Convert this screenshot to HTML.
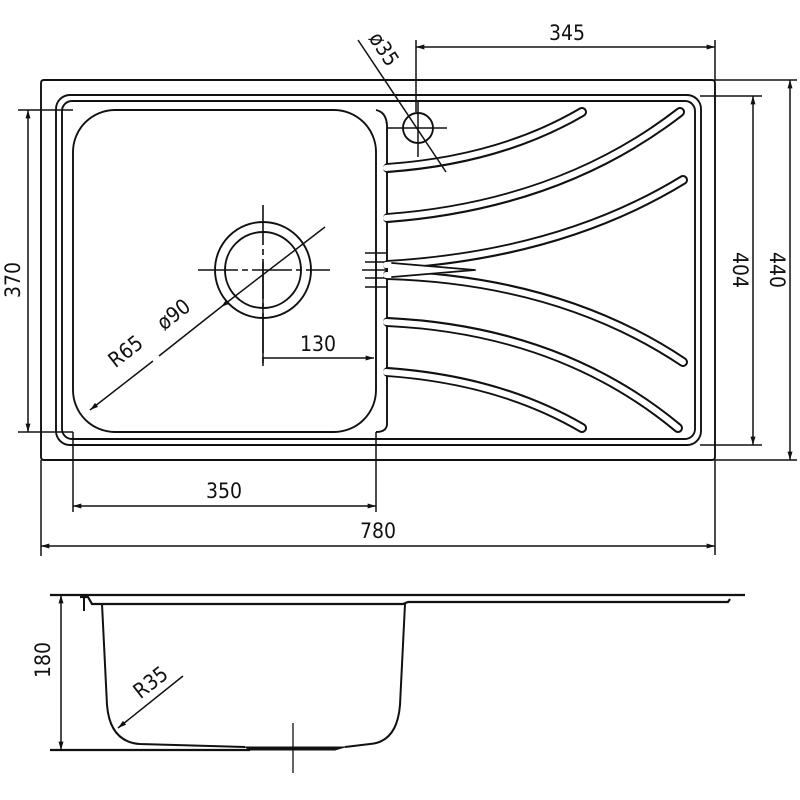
<!DOCTYPE html>
<html><head><meta charset="utf-8"><style>
html,body{margin:0;padding:0;background:#fff;}
svg{display:block}
text{font-family:"Liberation Sans Narrow","DejaVu Sans Condensed","Liberation Sans",sans-serif;font-size:21px;fill:#111}
</style></head><body>
<svg width="800" height="800" viewBox="0 0 800 800" xmlns="http://www.w3.org/2000/svg">
<defs>
<marker id="a" viewBox="0 0 10 6" refX="10" refY="3" markerWidth="14" markerHeight="5" orient="auto-start-reverse" markerUnits="userSpaceOnUse"><path d="M0,0L10,3L0,6z" fill="#111"/></marker>
</defs>
<g fill="none" stroke="#111" stroke-width="1.9">
<path d="M44,80H712Q715,80 715,83V457Q715,460 712,460H44Q41,460 41,457V83Q41,80 44,80Z"/>
<rect x="56" y="95" width="645" height="350" rx="14"/>
<rect x="62" y="101" width="633" height="338" rx="10"/>
<rect x="73" y="110" width="303" height="322" rx="42"/>
<path d="M376,110 Q386,112 387,125 V425 Q386,432 376,432"/>
<circle cx="263" cy="270" r="48"/>
<circle cx="263" cy="270" r="38"/>
<g stroke-dasharray="40,4,6,4" stroke-width="1.6">
<line x1="198" y1="270" x2="330" y2="270"/>
<line x1="263" y1="205" x2="263" y2="365"/>
</g>
<circle cx="418" cy="128" r="15"/>
<line x1="387" y1="128" x2="447" y2="128" stroke-width="1.5"/>
<line x1="418" y1="100" x2="418" y2="157" stroke-width="1.5"/>
<g stroke-width="1.5">
<line x1="365" y1="253" x2="387" y2="253"/><line x1="365" y1="262" x2="387" y2="262"/>
<line x1="362" y1="270" x2="390" y2="270"/>
<line x1="365" y1="278" x2="387" y2="278"/><line x1="365" y1="287" x2="387" y2="287"/>
</g>
</g>
<g fill="none" stroke-linecap="round">
<g stroke="#111" stroke-width="10">
<path d="M388,168 Q500,160 582,112"/>
<path d="M388,218 Q560,205 680,112"/>
<path d="M388,265 Q560,255 683,180"/>
<path d="M388,275 Q560,280 683,362"/>
<path d="M388,322 Q560,330 678,428"/>
<path d="M388,372 Q500,380 582,428"/>
</g>
<g stroke="#fff" stroke-width="6">
<path d="M386,168 Q500,160 582,112"/>
<path d="M386,218 Q560,205 680,112"/>
<path d="M386,265 Q560,255 683,180"/>
<path d="M386,275 Q560,280 683,362"/>
<path d="M386,322 Q560,330 678,428"/>
<path d="M386,372 Q500,380 582,428"/>
</g>
<path d="M388,270 L475,270" stroke="#fff" stroke-width="8" stroke-linecap="butt"/>
<path d="M475,270 L392,263 M475,270 L392,277" stroke="#111" stroke-width="1.8"/>
</g>
<g fill="none" stroke="#111" stroke-width="1.5">
<line x1="416" y1="40" x2="416" y2="112"/><line x1="715" y1="40" x2="715" y2="80"/>
<line x1="416" y1="47" x2="715" y2="47" marker-start="url(#a)" marker-end="url(#a)"/>
<line x1="358" y1="40" x2="446" y2="172"/>
<line x1="18" y1="110" x2="73" y2="110"/><line x1="18" y1="432" x2="73" y2="432"/>
<line x1="28" y1="110" x2="28" y2="432" marker-start="url(#a)" marker-end="url(#a)"/>
<line x1="700" y1="96" x2="762" y2="96"/><line x1="700" y1="445" x2="762" y2="445"/>
<line x1="753" y1="96" x2="753" y2="445" marker-start="url(#a)" marker-end="url(#a)"/>
<line x1="715" y1="80" x2="797" y2="80"/><line x1="715" y1="460" x2="797" y2="460"/>
<line x1="790" y1="80" x2="790" y2="460" marker-start="url(#a)" marker-end="url(#a)"/>
<line x1="715" y1="460" x2="715" y2="555"/>
<line x1="73" y1="432" x2="73" y2="512"/><line x1="376" y1="432" x2="376" y2="512"/>
<line x1="73" y1="506" x2="376" y2="506" marker-start="url(#a)" marker-end="url(#a)"/>
<line x1="41" y1="460" x2="41" y2="556"/>
<line x1="41" y1="546" x2="715" y2="546" marker-start="url(#a)" marker-end="url(#a)"/>
<line x1="263" y1="358" x2="374" y2="358" marker-end="url(#a)"/>
<line x1="263" y1="262" x2="263" y2="366"/>
<line x1="90" y1="410" x2="153" y2="361" marker-start="url(#a)"/>
<line x1="159" y1="356" x2="221" y2="307"/>
<line x1="221" y1="307" x2="325" y2="227" marker-start="url(#a)"/>
</g>
<text x="567" y="40" text-anchor="middle">345</text>
<text transform="translate(20,280) rotate(-90)" text-anchor="middle">370</text>
<text transform="translate(733,270) rotate(90)" text-anchor="middle">404</text>
<text transform="translate(770,270) rotate(90)" text-anchor="middle">440</text>
<text x="224" y="498" text-anchor="middle">350</text>
<text x="378" y="538" text-anchor="middle">780</text>
<text x="318" y="351" text-anchor="middle">130</text>
<text transform="translate(130,357) rotate(-38)" text-anchor="middle">R65</text>
<text transform="translate(178,320) rotate(-38)" text-anchor="middle">ø90</text>
<text transform="translate(378,53) rotate(57)" text-anchor="middle">ø35</text>
<g fill="none" stroke="#111" stroke-width="2">
<line x1="50" y1="595" x2="745" y2="595" stroke-width="2.2"/>
<path d="M80,597 L88,597 L92,604 H403 L408,602 H728 L730,599" stroke-width="2.2"/>
<line x1="84" y1="597" x2="84" y2="611"/>
<path d="M102,604 L107,705 Q110,742 140,744 L245,747"/>
<path d="M405,604 L400,705 Q397,742 370,744 L345,747"/>
<line x1="50" y1="750" x2="250" y2="750" stroke-width="2.2"/>
<path d="M245,747 L250,750 H335 L345,747Z" fill="#111" stroke-width="1"/>
<line x1="293" y1="723" x2="293" y2="773" stroke-width="1.3"/>
<line x1="61" y1="595" x2="61" y2="750" marker-start="url(#a)" marker-end="url(#a)" stroke-width="1.5"/>
<line x1="183" y1="676" x2="118" y2="728" marker-end="url(#a)" stroke-width="1.5"/>
</g>
<text transform="translate(50,660) rotate(-90)" text-anchor="middle">180</text>
<text transform="translate(155,688) rotate(-38)" text-anchor="middle">R35</text>
</svg>
</body></html>
